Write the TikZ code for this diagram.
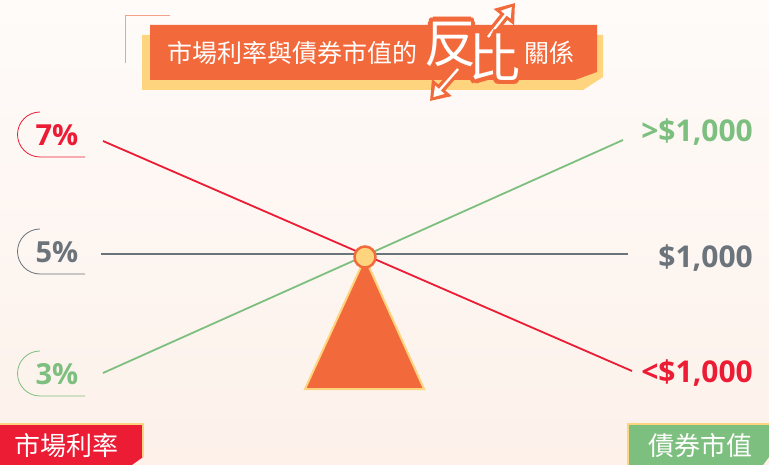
\documentclass[tikz,border=0pt]{standalone}
\usepackage{fontspec}
\setmainfont{Open Sans}
\newfontfamily\cjk{Noto Sans CJK TC}
\usetikzlibrary{arrows.meta,calc,positioning}
\definecolor{banner}{HTML}{F26A3B}
\definecolor{sand}{HTML}{FFD47E}
\definecolor{rate}{HTML}{EC1C35}
\definecolor{bond}{HTML}{7DBF7E}
\definecolor{par}{HTML}{6B737B}
\definecolor{salmon}{HTML}{F4A189}
\definecolor{bgtop}{HTML}{FEFBF9}
\definecolor{bgbot}{HTML}{FDF1EA}
\tikzstyle{beam} = [draw,line width=1.8pt]

\begin{document}
\begin{tikzpicture}[x=1pt,y=-1pt,
  pct/.style={font=\fontsize{29}{29}\bfseries\selectfont,inner sep=0pt},
  price/.style={font=\fontsize{30}{30}\bfseries\selectfont,inner sep=0pt,anchor=east},
  head/.style={font=\cjk\fontsize{25}{25}\selectfont,text=white,inner sep=0pt},
  big/.style={font=\cjk\fontsize{52}{52}\selectfont,inner sep=0pt},
  tag/.style={font=\cjk\fontsize{26}{26}\selectfont,text=white,inner sep=0pt}]

  \shade[top color=bgtop,bottom color=bgbot] (0,0) rectangle (769,465);
  \useasboundingbox (0,0) rectangle (769,465);

  % title banner
  \draw[salmon,line width=1pt] (125,63) -- (125,16) -- (170,16);
  \fill[sand] (142,35) -- (603,35) -- (603,77) -- (583,90) -- (142,90) -- cycle;
  \fill[banner] (150,25) -- (597,25) -- (597,72) -- (575,80) -- (150,80) -- cycle;
  \node[head] (title) at (292,53) {市場利率與債券市值的};
  \node[head] (rel) at (549,53) {關係};

  % arrows
  \coordinate (a1) at (488,37);
  \coordinate (a2) at (515,3);
  \coordinate (a3) at (458,69);
  \coordinate (a4) at (430,101);
  \draw[banner,line width=9pt,-{Triangle[length=18pt,width=25pt]}] (a1) -- (a2);
  \draw[white,line width=2.4pt,shorten >=5pt,-{Triangle[length=10pt,width=12pt]}] (a1) -- (a2);
  \draw[banner,line width=9pt,-{Triangle[length=18pt,width=25pt]}] (a3) -- (a4);
  \draw[white,line width=2.4pt,shorten >=5pt,-{Triangle[length=10pt,width=12pt]}] (a3) -- (a4);

  \coordinate (fan) at (450,44);
  \coordinate (bi) at (494,57);
  \foreach \a in {0,30,...,330} {
    \node[big,text=banner] at ($(fan)+(\a:4.5pt)$) {反};
    \node[big,text=banner] at ($(bi)+(\a:4.5pt)$) {比};
  }
  \node[big,text=white] (1) at (fan) {反};
  \node[big,text=white] (2) at (bi) {比};

  % left labels
  \foreach \y/\c/\t in {135/rate/7\%, 252/par/5\%, 374/bond/3\%} {
    \draw[\c,line width=0.8pt] (40,\y-23) arc[start angle=270,end angle=90,radius=22.5] -- (85,\y+22);
    \node[pct,text=\c] (l\y) at (57,\y) {\t};
  }

  % right labels
  \node[price,text=bond] (hi) at (753,132) {>\$1,000};
  \node[price,text=par] (eq) at (753,258) {\$1,000};
  \node[price,text=rate] (lo) at (753,373) {<\$1,000};

  % seesaw
  \coordinate (r7) at (103,141);
  \coordinate (rL) at (632,371);
  \coordinate (b3) at (103,373);
  \coordinate (bH) at (623,140);
  \coordinate (p5) at (101,254);
  \coordinate (pR) at (628,254);
  \path[beam,par] (p5) -- (pR);
  \path[beam,bond] (b3) -- (bH);
  \path[beam,rate] (r7) -- (rL);

  \filldraw[fill=banner,draw=sand,line width=2pt] (365,258) -- (424,389) -- (305,389) -- cycle;
  \node[circle,fill=sand,draw=banner,line width=2.5pt,minimum size=21pt,inner sep=0pt] (pivot) at (365,257) {};

  % bottom tags
  \fill[rate] (0,424) -- (143,424) -- (143,457) -- (132,465) -- (0,465) -- cycle;
  \draw[sand,line width=1.2pt] (0,424) -- (143,424) -- (143,457);
  \node[tag] (rtag) at (66,446) {市場利率};
  \fill[bond] (628,424) -- (769,424) -- (769,457) -- (763,465) -- (628,465) -- cycle;
  \draw[sand,line width=1.2pt] (628,465) -- (628,424) -- (769,424);
  \node[tag] (btag) at (700,446) {債券市值};

\end{tikzpicture}
\end{document}
